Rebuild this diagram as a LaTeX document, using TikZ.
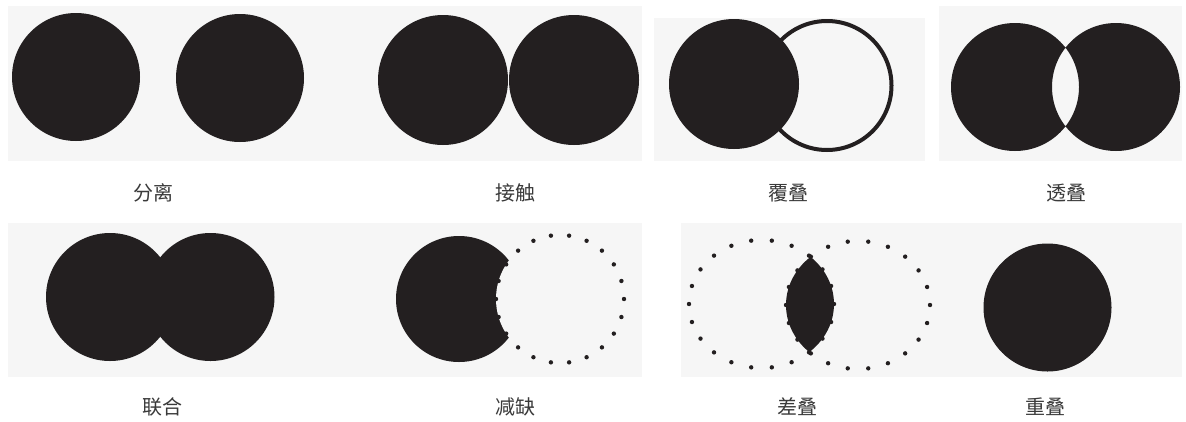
\documentclass[tikz,border=0pt]{standalone}
\usepackage{fontspec}
\newfontfamily\cjk{Noto Sans CJK SC}
\definecolor{ink}{HTML}{231F20}
\definecolor{panel}{HTML}{F6F6F6}
\definecolor{txt}{HTML}{3A3A3A}
\begin{document}
\begin{tikzpicture}[x=1pt,y=-1pt,
  panelbox/.style={fill=panel,draw=none},
  blob/.style={fill=ink,draw=none},
  ringline/.style={draw=ink,line width=4pt},
  lbl/.style={font=\cjk\fontsize{20pt}{20pt}\selectfont,text=txt,inner sep=0pt},
]
\useasboundingbox[fill=white] (0,0) rectangle (1186,421);
% panels
\fill[panelbox] (8,6) rectangle (642,161);
\fill[panelbox] (654,18) rectangle (925,161);
\fill[panelbox] (939,6) rectangle (1182,161);
\fill[panelbox] (8,223) rectangle (642,377);
\fill[panelbox] (681,223) rectangle (1182,377);
% 分离
\fill[blob] (76,77) circle[radius=64pt];
\fill[blob] (240,78) circle[radius=64pt];
% 接触
\fill[blob] (443,80) circle[radius=65pt];
\fill[blob] (574,80) circle[radius=65pt];
% 覆叠
\draw[ringline] (827,85.5) circle[radius=64.5pt];
\fill[blob] (734,84) circle[radius=65pt];
% 透叠
\fill[blob,even odd rule] (1015,87) circle[radius=64pt] (1116,87) circle[radius=64pt];
% 联合
\fill[blob] (110,297) circle[radius=64pt];
\fill[blob] (210.5,297) circle[radius=64pt];
% 减缺
\fill[blob] (459,299) circle[radius=63pt];
\fill[panel] (560,299) circle[radius=64pt];
\foreach \k in {0,...,21}
  \fill[ink] (560,299) ++(\k*360/22:64pt) circle[radius=2.2pt];
% 差叠
\begin{scope}
  \clip (761.5,304) ellipse[x radius=72.5pt,y radius=64pt];
  \fill[blob] (858,305) ellipse[x radius=72pt,y radius=64pt];
\end{scope}
\foreach \k in {0,...,21}{
  \fill[ink] (761.5,304) ++(\k*360/22:72.5pt and 64pt) circle[radius=2.2pt];
  \fill[ink] (858,305) ++(\k*360/22:72pt and 64pt) circle[radius=2.2pt];
}
% 重叠
\fill[blob] (1047.5,307.5) circle[radius=64pt];
% labels
\node[lbl] (l1) at (153,193) {分离};
\node[lbl] (l2) at (515,193) {接触};
\node[lbl] (l3) at (788,193) {覆叠};
\node[lbl] (l4) at (1066,193) {透叠};
\node[lbl] (l5) at (162,407) {联合};
\node[lbl] (l6) at (515,407) {减缺};
\node[lbl] (l7) at (797,407) {差叠};
\node[lbl] (l8) at (1045,407) {重叠};
\end{tikzpicture}
\end{document}
